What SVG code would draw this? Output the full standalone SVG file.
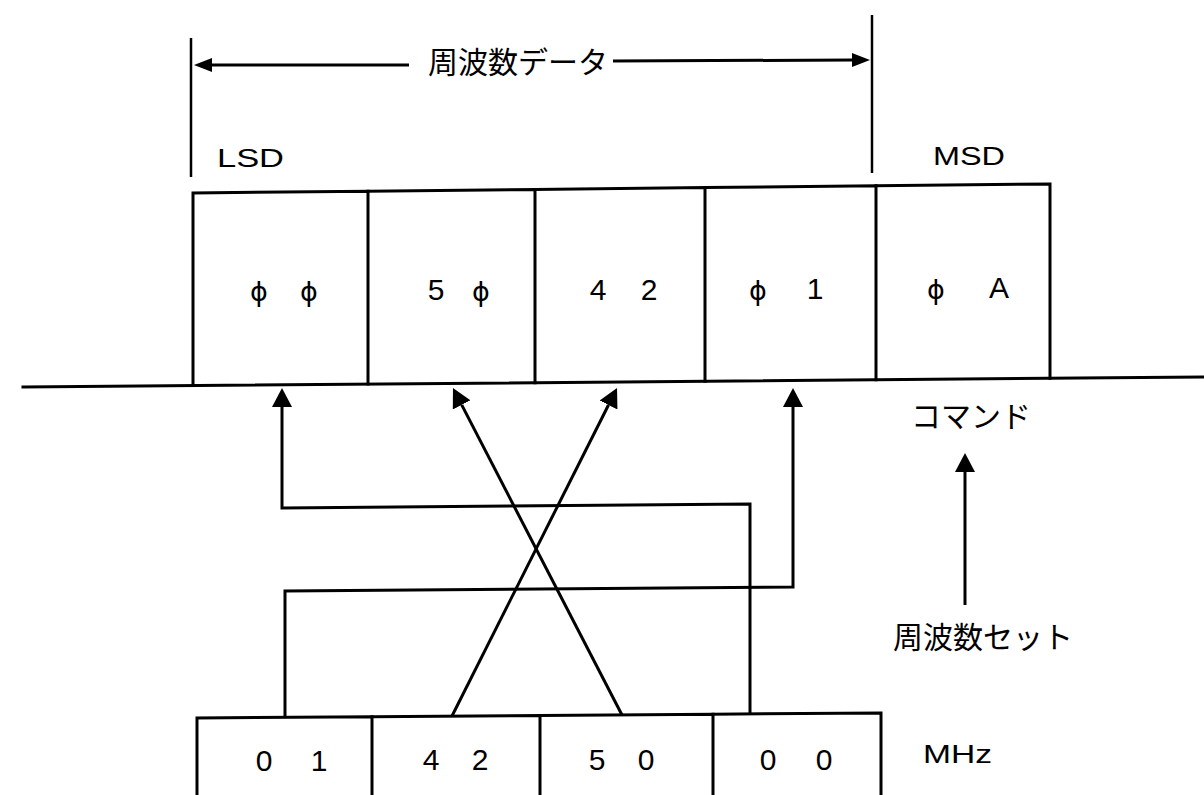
<svg xmlns="http://www.w3.org/2000/svg" width="1204" height="795" viewBox="0 0 1204 795">
<style>
.ln{fill:none;stroke:#000;stroke-width:3;stroke-linecap:square;stroke-linejoin:miter}
.cn{fill:none;stroke:#000;stroke-width:3}
.th{fill:none;stroke:#000;stroke-width:2.5}
.lat{font-family:"Liberation Sans","DejaVu Sans",sans-serif;font-size:25px;fill:#000}
.dig{font-family:"Liberation Sans","DejaVu Sans",sans-serif;font-size:30px;fill:#000;text-anchor:middle}
.dg2{font-family:"Liberation Sans","DejaVu Sans",sans-serif;font-size:30px;fill:#000;text-anchor:middle}
.phi{font-family:"DejaVu Sans","Liberation Sans",sans-serif;font-size:27px;fill:#000;text-anchor:middle}
.jp{font-family:"Noto Sans CJK JP","Noto Sans CJK SC",sans-serif;font-size:30px;fill:#000;text-anchor:middle}
</style>
<defs>
<marker id="ah" viewBox="0 0 19 20" refX="0" refY="10" markerWidth="19" markerHeight="20" markerUnits="userSpaceOnUse" orient="auto">
<path d="M0,0 L19,10 L0,20 Z" fill="#000"/>
</marker>
<marker id="ahd" viewBox="0 0 18 14" refX="0" refY="7" markerWidth="18" markerHeight="14" markerUnits="userSpaceOnUse" orient="auto">
<path d="M0,0 L18,7 L0,14 Z" fill="#000"/>
</marker>
</defs>
<rect width="1204" height="795" fill="#fff"/>

<g id="dimension">
<line class="th" x1="191" y1="38" x2="191" y2="177"/>
<line class="th" x1="872" y1="15" x2="872" y2="173"/>
<path class="cn" d="M409,65 L212,65" marker-end="url(#ahd)"/>
<path class="cn" d="M613,61 L852,60" marker-end="url(#ahd)"/>
<text class="jp" x="518" y="73">周波数データ</text>
</g>

<g id="labels">
<text class="lat" x="217" y="167" textLength="67" lengthAdjust="spacingAndGlyphs">LSD</text>
<text class="lat" x="933" y="165" textLength="72" lengthAdjust="spacingAndGlyphs">MSD</text>
<text class="lat" x="923" y="763" textLength="69" lengthAdjust="spacingAndGlyphs">MHz</text>
<text class="jp" x="971" y="427">コマンド</text>
<text class="jp" x="983" y="648">周波数セット</text>
</g>

<g id="baseline">
<line class="ln" x1="23" y1="387" x2="1204" y2="377"/>
</g>

<g id="cmd-box-1">
<path class="ln" d="M193,385.6 L193,193 L368,191.2 L368,384.1"/>
<text class="phi" x="259" y="301">ϕ</text><text class="phi" x="309" y="301">ϕ</text>
</g>
<g id="cmd-box-2">
<path class="ln" d="M368,191.2 L535,189.4 L535,382.7"/>
<text class="dig" x="436" y="300">5</text><text class="phi" x="481" y="301">ϕ</text>
</g>
<g id="cmd-box-3">
<path class="ln" d="M535,189.4 L705,187.6 L705,381.2"/>
<text class="dig" x="598" y="300">4</text><text class="dig" x="649" y="300">2</text>
</g>
<g id="cmd-box-4">
<path class="ln" d="M705,187.6 L876,185.8 L876,379.8"/>
<text class="phi" x="758" y="300">ϕ</text><text class="dig" x="815" y="299">1</text>
</g>
<g id="cmd-box-5">
<path class="ln" d="M876,185.8 L1050,184 L1050,378.3"/>
<text class="phi" x="936" y="299">ϕ</text><text class="dig" x="999" y="298">A</text>
</g>

<g id="mhz-box-1">
<path class="ln" d="M197,800 L197,718 L372,716.7 L372,800"/>
<text class="dg2" x="264" y="771">0</text><text class="dg2" x="319" y="771">1</text>
</g>
<g id="mhz-box-2">
<path class="ln" d="M372,716.7 L540,715.5 L540,800"/>
<text class="dg2" x="431" y="770">4</text><text class="dg2" x="480" y="770">2</text>
</g>
<g id="mhz-box-3">
<path class="ln" d="M540,715.5 L713,714.2 L713,800"/>
<text class="dg2" x="597" y="770">5</text><text class="dg2" x="646" y="770">0</text>
</g>
<g id="mhz-box-4">
<path class="ln" d="M713,714.2 L881,713 L881,800"/>
<text class="dg2" x="768" y="770">0</text><text class="dg2" x="824" y="770">0</text>
</g>

<g id="connectors">
<path class="cn" d="M750,715 L750,504 L282,508 L282,407" marker-end="url(#ah)"/>
<path class="cn" d="M285,717 L285,591 L793,587 L793,407" marker-end="url(#ah)"/>
<path class="cn" d="M452,716 L608.5,405" marker-end="url(#ah)"/>
<path class="cn" d="M622,715 L461.7,404.9" marker-end="url(#ah)"/>
<path class="cn" d="M965,605 L965,472" marker-end="url(#ah)"/>
</g>
</svg>
